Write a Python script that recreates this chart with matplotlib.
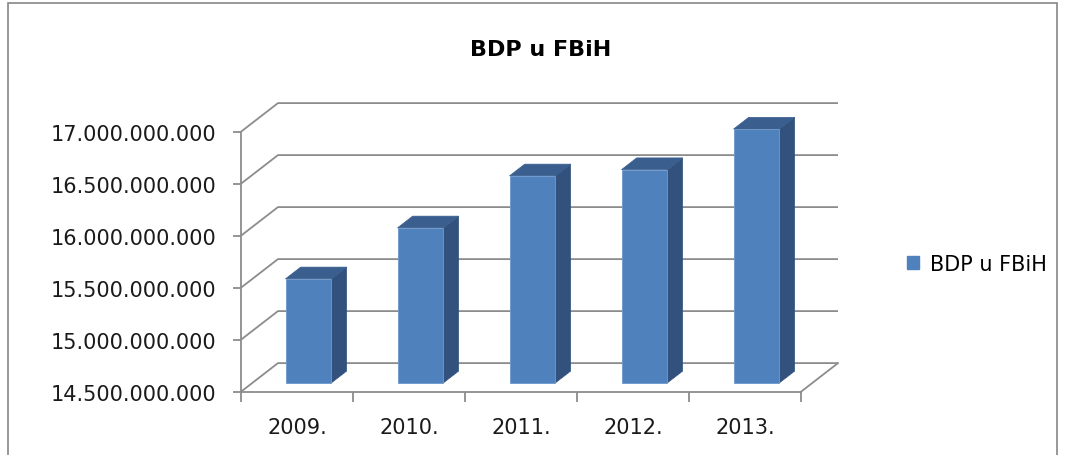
import matplotlib.pyplot as plt
from matplotlib.patches import Polygon, Rectangle, Patch

years = ['2009.', '2010.', '2011.', '2012.', '2013.']
bdp = [15.50e9, 15.99e9, 16.49e9, 16.55e9, 16.94e9]
y_ticks = [14.5e9, 15.0e9, 15.5e9, 16.0e9, 16.5e9, 17.0e9]
series_name = 'BDP u FBiH'

# pseudo 3D: depth offset in data units
DX = 0.33
DY = 0.275e9
d0, d1 = 0.31, 0.72
bw = 0.41
base = y_ticks[0]

front = '#4F81BD'
side = '#32527D'
top = '#3A5F8E'
grid_c = '#8C8C8C'

plt.rcParams['font.family'] = ['DejaVu Sans']

fig = plt.figure(figsize=(10.65, 4.56), dpi=100)
W, H = 1065, 456
ax = fig.add_axes([241 / W, (H - 392.7) / H, 597 / W, 288.6 / H])
ax.set_xlim(0, len(years) + DX)
ax.set_ylim(base, y_ticks[-1] + DY)

# back wall grid + floor
n = len(years)
for v in y_ticks:
    ax.plot([0, DX, n + DX], [v, v + DY, v + DY], color=grid_c, lw=1.3,
            clip_on=False, zorder=1, solid_capstyle='butt')
ax.plot([n, n + DX], [base, base + DY], color=grid_c, lw=1.3, clip_on=False, zorder=1)

# bars (front face + side + top)
for i, v in enumerate(bdp):
    xc = i + 0.5
    xl, xr = xc - bw / 2, xc + bw / 2
    ax.bar(xc + d0 * DX, v - base, width=bw, bottom=base + d0 * DY,
           color=front, edgecolor='#6f97cc', lw=0.6, zorder=3)
    sp = [(xr + d0 * DX, base + d0 * DY), (xr + d1 * DX, base + d1 * DY),
          (xr + d1 * DX, v + d1 * DY), (xr + d0 * DX, v + d0 * DY)]
    ax.add_patch(Polygon(sp, closed=True, facecolor=side, edgecolor=side, lw=0.5, zorder=2))
    tp = [(xl + d0 * DX, v + d0 * DY), (xr + d0 * DX, v + d0 * DY),
          (xr + d1 * DX, v + d1 * DY), (xl + d1 * DX, v + d1 * DY)]
    ax.add_patch(Polygon(tp, closed=True, facecolor=top, edgecolor=top, lw=0.5, zorder=2))

# axes
for s in ['top', 'right']:
    ax.spines[s].set_visible(False)
ax.spines['left'].set_bounds(base, y_ticks[-1])
ax.spines['bottom'].set_bounds(0, n)
for s in ['left', 'bottom']:
    ax.spines[s].set_color(grid_c)
    ax.spines[s].set_linewidth(1.3)

ax.set_yticks(y_ticks)
ax.set_yticklabels([f'{v:,.0f}'.replace(',', '.') for v in y_ticks])
ax.tick_params(axis='y', length=6, width=1.3, color=grid_c, pad=12,
               labelsize=15, labelcolor='#1a1a1a')

ax.set_xticks(range(n + 1))
ax.set_xticklabels([])
ax.set_xticks([i + 0.5 for i in range(n)], minor=True)
ax.set_xticklabels(years, minor=True)
ax.tick_params(axis='x', which='major', length=7, width=1.3, color=grid_c)
ax.tick_params(axis='x', which='minor', length=0, pad=18, labelsize=15,
               labelcolor='#1a1a1a')
ax.patch.set_visible(False)

fig.text(541 / W, 1 - 50 / H, series_name, ha='center', va='center',
         fontsize=16, fontweight='bold', color='#000000')

fig.legend(handles=[Patch(color=front, label=series_name)], loc='center left',
           bbox_to_anchor=(888 / W, 1 - 265 / H), frameon=False, fontsize=15,
           handlelength=0.6, handleheight=0.6, handletextpad=0.5)

# chart area border
fig.patches.append(Rectangle((8 / W, -0.02), 1049 / W, 1.02 - 4 / H,
                             transform=fig.transFigure, fill=False,
                             edgecolor='#868686', lw=1.2))

fig.savefig('out.png', dpi=100)
